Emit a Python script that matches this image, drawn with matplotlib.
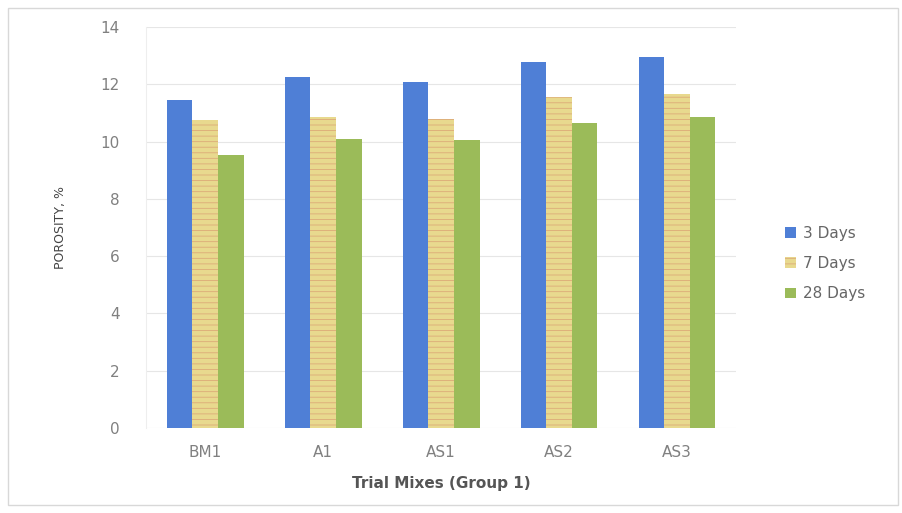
import numpy as np
import matplotlib
matplotlib.use("Agg")
import matplotlib.pyplot as plt
from matplotlib.patches import Rectangle

# Data
mixes = ["BM1", "A1", "AS1", "AS2", "AS3"]
series = ["3 Days", "7 Days", "28 Days"]
days3 = [11.45, 12.25, 12.1, 12.78, 12.97]
days7 = [10.77, 10.87, 10.8, 11.55, 11.67]
days28 = [9.55, 10.1, 10.07, 10.65, 10.87]

colors = ["#4f7fd6", "#e8d98e", "#9bbb59"]

plt.rcParams["hatch.linewidth"] = 0.6

fig = plt.figure(figsize=(9.03, 5.13), dpi=100)
ax = fig.add_axes([0.162, 0.166, 0.653, 0.781])

# outer chart frame
fig.patches.append(Rectangle((0.009, 0.015), 0.985, 0.97, transform=fig.transFigure,
                             fill=False, edgecolor="#d8d8d8", linewidth=1.0))

x = np.arange(len(mixes))
w = 0.217
for i, (vals, c) in enumerate(zip([days3, days7, days28], colors)):
    kw = {}
    if i == 1:
        kw = dict(hatch="---", edgecolor="#dcaa78", linewidth=0)
    ax.bar(x + (i - 1) * w, vals, w, color=c, label=series[i], zorder=3, **kw)

ax.set_xlim(-0.5, len(mixes) - 0.5)
ax.set_ylim(0, 14)
ax.set_yticks(np.arange(0, 15, 2))
ax.set_xticks(x)
ax.set_xticklabels(mixes)
ax.grid(axis="y", color="#e6e6e6", linewidth=0.8, zorder=0)
for s in ["top", "right", "bottom"]:
    ax.spines[s].set_visible(False)
ax.spines["left"].set_color("#eeeeee")
ax.tick_params(length=0, colors="#808080", labelsize=11, pad=12)
ax.tick_params(axis="y", pad=19)

ax.set_ylabel("POROSITY, %", color="#444444", fontsize=9, labelpad=24)
ax.set_xlabel("Trial Mixes (Group 1)", color="#555555", fontsize=11, fontweight="bold", labelpad=12)

leg = ax.legend(loc="center left", bbox_to_anchor=(1.06, 0.41), frameon=False,
                fontsize=11, labelcolor="#666666", handlelength=0.7, handleheight=0.7,
                handletextpad=0.5, labelspacing=1.0)

fig.savefig("out.png", dpi=100)
